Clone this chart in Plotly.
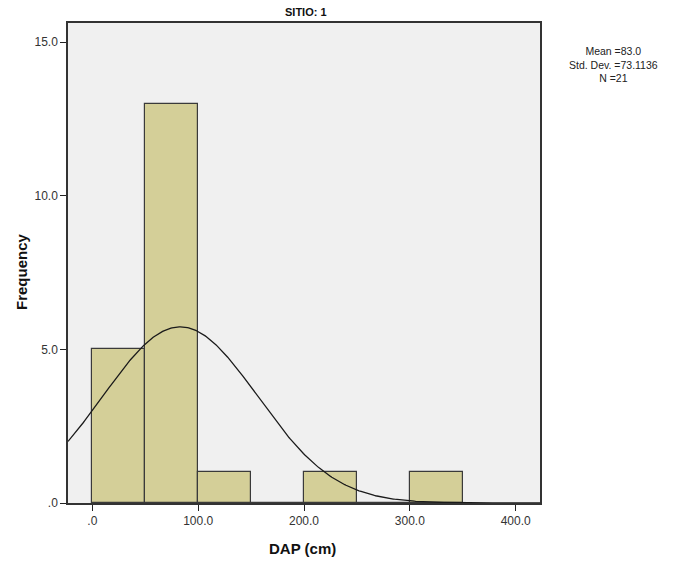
import numpy as np
import plotly.graph_objects as go

bin_start = [0, 50, 100, 150, 200, 250, 300]
bin_width = 50
counts = [5, 13, 1, 0, 1, 0, 1]
mean_val = 83.0
std_val = 73.1136
n_val = 21
y_tickvals = [0, 5, 10, 15]
y_ticktext = [".0", "5.0", "10.0", "15.0"]
x_tickvals = [0, 100, 200, 300, 400]
x_ticktext = [".0", "100.0", "200.0", "300.0", "400.0"]
stats_lines = ["Mean =83.0", "Std. Dev. =73.1136", "N =21"]

centers = [b + bin_width / 2 for b in bin_start]

W, H = 679, 564
L, R, T, B = 68, 540, 23, 503

fig = go.Figure()
fig.add_trace(go.Bar(
    x=centers, y=counts, width=bin_width,
    marker=dict(color="#d4cf98", line=dict(color="#3a3a3a", width=1.2)),
    hoverinfo="skip"
))

xs = np.linspace(-23, 423, 400)
ys = n_val * bin_width / (std_val * np.sqrt(2 * np.pi)) * np.exp(-0.5 * ((xs - mean_val) / std_val) ** 2)
fig.add_trace(go.Scatter(x=xs, y=ys, mode="lines", line=dict(color="#1a1a1a", width=1.3), hoverinfo="skip"))

fig.update_layout(
    width=W, height=H,
    margin=dict(l=L, r=W - R, t=T, b=H - B, autoexpand=False),
    paper_bgcolor="white", plot_bgcolor="#f0f0f0",
    showlegend=False, bargap=0,
    font=dict(family="Liberation Sans, Arial", size=12, color="#222"),
)
fig.update_xaxes(
    range=[-23, 423], tickvals=x_tickvals, ticktext=x_ticktext,
    ticks="outside", ticklen=6, tickcolor="#222", tickwidth=1.3,
    showgrid=False, zeroline=False, automargin=False,
    showline=True, linecolor="#333", linewidth=1.5, mirror=True,
    tickfont=dict(size=12, color="#333"),
)
fig.update_yaxes(
    range=[0, 15.62], tickvals=y_tickvals, ticktext=y_ticktext,
    ticks="outside", ticklen=6, tickcolor="#222", tickwidth=1.3,
    showgrid=False, zeroline=False, automargin=False,
    showline=True, linecolor="#333", linewidth=1.5, mirror=True,
    tickfont=dict(size=12, color="#333"),
)

def px_x(p):
    return (p - L) / (R - L)

def px_y(p):
    return (B - p) / (B - T)

fig.add_annotation(xref="paper", yref="paper", x=px_x(306), y=px_y(12),
                   text="<b>SITIO: 1</b>", showarrow=False, xanchor="center", yanchor="middle",
                   font=dict(size=11, color="#111"))
fig.add_annotation(xref="paper", yref="paper", x=px_x(302), y=px_y(548),
                   text="<b>DAP (cm)</b>", showarrow=False, xanchor="center", yanchor="middle",
                   font=dict(size=15, color="#111"))
fig.add_annotation(xref="paper", yref="paper", x=px_x(21), y=px_y(272),
                   text="<b>Frequency</b>", showarrow=False, textangle=-90,
                   xanchor="center", yanchor="middle",
                   font=dict(size=15, color="#111"))
fig.add_annotation(
    xref="paper", yref="paper", x=px_x(613), y=px_y(64),
    text="<br>".join(stats_lines), showarrow=False, align="center",
    xanchor="center", yanchor="middle",
    font=dict(size=10.5, color="#222"),
)
fig.write_html(
    "out.html",
    config={"displayModeBar": False},
    post_script="document.body.style.margin='0';document.body.style.overflow='hidden';",
)
